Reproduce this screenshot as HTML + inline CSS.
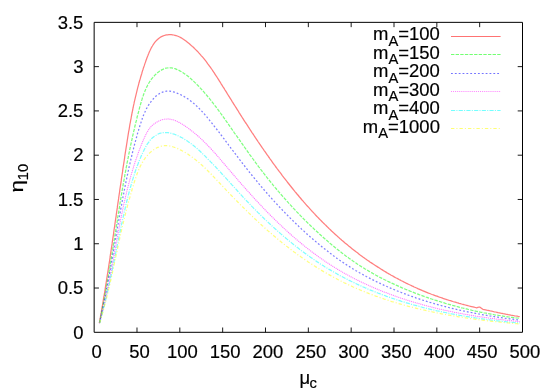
<!DOCTYPE html>
<html><head><meta charset="utf-8"><title>plot</title>
<style>
html,body{margin:0;padding:0;background:#fff;}
svg{display:block;will-change:transform;}
text{font-family:"Liberation Sans",sans-serif;font-size:18.47px;fill:#000;stroke:#000;stroke-width:0.18px;}
.s{font-size:14.78px;}
</style></head><body>
<svg width="554" height="388" viewBox="0 0 554 388">
<rect width="554" height="388" fill="#fff"/>
<g fill="none" stroke-linejoin="round" stroke-opacity="0.5">
<path d="M99.4,323.0 L99.6,321.7 L99.8,320.5 L100.0,319.2 L100.3,317.9 L100.5,316.7 L100.7,315.4 L100.9,314.1 L101.2,312.9 L101.4,311.6 L101.6,310.3 L101.8,309.1 L102.0,307.8 L102.2,306.5 L102.5,305.3 L102.7,304.0 L102.9,302.7 L103.1,301.4 L103.3,300.2 L103.5,298.9 L103.7,297.6 L103.9,296.4 L104.2,295.1 L104.4,293.8 L104.6,292.5 L104.8,291.3 L105.0,290.0 L105.2,288.7 L105.4,287.4 L105.6,286.2 L105.8,284.9 L106.0,283.6 L106.2,282.3 L106.4,281.1 L106.6,279.8 L106.8,278.5 L107.0,277.2 L107.2,275.9 L107.4,274.7 L107.6,273.4 L107.8,272.1 L108.0,270.8 L108.2,269.5 L108.4,268.3 L108.6,267.0 L108.8,265.7 L109.0,264.4 L109.2,263.1 L109.4,261.8 L109.6,260.6 L109.8,259.3 L110.0,258.0 L110.2,256.7 L110.3,255.4 L110.5,254.1 L110.7,252.9 L110.9,251.6 L111.1,250.3 L111.3,249.0 L111.5,247.7 L111.7,246.4 L111.9,245.1 L112.1,243.9 L112.2,242.6 L112.4,241.3 L112.6,240.0 L112.8,238.7 L113.0,237.4 L113.2,236.1 L113.4,234.9 L113.6,233.6 L113.7,232.3 L113.9,231.0 L114.1,229.7 L114.3,228.4 L114.5,227.1 L114.7,225.9 L114.9,224.6 L115.0,223.3 L115.2,222.0 L115.4,220.7 L115.6,219.4 L115.8,218.1 L116.0,216.9 L116.2,215.6 L116.3,214.3 L116.5,213.0 L116.7,211.7 L116.9,210.4 L117.1,209.2 L117.3,207.9 L117.4,206.6 L117.6,205.3 L117.8,204.0 L118.0,202.7 L118.2,201.4 L118.4,200.2 L118.6,198.9 L118.7,197.6 L118.9,196.3 L119.1,195.0 L119.3,193.7 L119.5,192.5 L119.7,191.2 L119.8,189.9 L120.0,188.6 L120.2,187.3 L120.4,186.1 L120.6,184.8 L120.8,183.5 L121.0,182.2 L121.2,180.9 L121.3,179.7 L121.5,178.4 L121.7,177.1 L121.9,175.8 L122.1,174.5 L122.3,173.3 L122.5,172.0 L122.7,170.7 L122.8,169.4 L123.0,168.2 L123.2,166.9 L123.4,165.6 L123.6,164.3 L123.8,163.1 L124.0,161.8 L124.2,160.5 L124.4,159.2 L124.6,158.0 L124.7,156.7 L124.9,155.4 L125.1,154.2 L125.3,152.9 L125.5,151.6 L125.7,150.4 L125.9,149.1 L126.1,147.8 L126.3,146.6 L126.5,145.3 L126.7,144.0 L126.9,142.8 L127.1,141.5 L127.3,140.2 L127.5,139.0 L127.7,137.7 L127.9,136.4 L128.1,135.2 L128.3,133.9 L128.5,132.6 L128.7,131.4 L129.0,130.1 L129.2,128.9 L129.4,127.6 L129.6,126.3 L129.8,125.1 L130.0,123.8 L130.3,122.6 L130.5,121.3 L130.7,120.0 L131.0,118.8 L131.2,117.5 L131.4,116.3 L131.7,115.0 L131.9,113.7 L132.2,112.5 L132.4,111.2 L132.7,110.0 L132.9,108.7 L133.2,107.5 L133.4,106.2 L133.7,104.9 L134.0,103.7 L134.2,102.4 L134.5,101.2 L134.8,99.9 L135.1,98.7 L135.4,97.4 L135.7,96.1 L136.0,94.9 L136.3,93.6 L136.6,92.4 L136.9,91.1 L137.2,89.8 L137.5,88.6 L137.8,87.3 L138.2,86.1 L138.5,84.8 L138.8,83.6 L139.2,82.3 L139.5,81.0 L139.9,79.8 L140.3,78.5 L140.6,77.3 L141.0,76.0 L141.4,74.7 L141.8,73.5 L142.1,72.2 L142.5,70.9 L142.9,69.7 L143.3,68.4 L143.7,67.2 L144.2,65.9 L144.6,64.6 L145.0,63.4 L145.5,62.1 L145.9,60.8 L146.4,59.6 L146.8,58.3 L147.3,57.0 L147.8,55.8 L148.3,54.5 L148.8,53.3 L149.3,52.0 L149.9,50.8 L150.5,49.5 L151.1,48.3 L151.7,47.1 L152.4,46.0 L153.1,44.8 L153.9,43.7 L154.6,42.7 L155.4,41.7 L156.3,40.7 L157.2,39.8 L158.1,39.0 L159.0,38.2 L160.0,37.5 L161.0,36.9 L162.1,36.3 L163.2,35.9 L164.3,35.5 L165.4,35.2 L166.6,34.9 L167.7,34.8 L168.9,34.7 L170.1,34.6 L171.3,34.7 L172.5,34.8 L173.7,35.0 L174.9,35.3 L176.1,35.6 L177.3,36.0 L178.5,36.5 L179.6,37.0 L180.8,37.6 L181.9,38.3 L183.0,39.0 L184.1,39.7 L185.2,40.5 L186.3,41.3 L187.4,42.2 L188.4,43.0 L189.4,43.8 L190.4,44.7 L191.4,45.6 L192.4,46.5 L193.4,47.3 L194.3,48.2 L195.2,49.2 L196.2,50.1 L197.1,51.0 L198.0,51.9 L198.8,52.9 L199.7,53.8 L200.6,54.8 L201.4,55.8 L202.2,56.7 L203.1,57.7 L203.9,58.7 L204.7,59.7 L205.5,60.7 L206.3,61.7 L207.1,62.8 L207.8,63.8 L208.6,64.8 L209.3,65.8 L210.1,66.9 L210.8,67.9 L211.6,69.0 L212.3,70.0 L213.0,71.1 L213.7,72.2 L214.4,73.2 L215.1,74.3 L215.8,75.4 L216.5,76.4 L217.2,77.5 L217.9,78.6 L218.6,79.7 L219.3,80.8 L220.0,81.9 L220.7,83.0 L221.3,84.1 L222.0,85.2 L222.7,86.3 L223.4,87.3 L224.1,88.4 L224.7,89.5 L225.4,90.6 L226.1,91.7 L226.8,92.8 L227.4,93.9 L228.1,95.0 L228.8,96.1 L229.5,97.2 L230.2,98.3 L230.9,99.4 L231.6,100.5 L232.2,101.6 L232.9,102.7 L233.6,103.8 L234.3,104.9 L235.0,106.0 L235.7,107.1 L236.4,108.2 L237.1,109.3 L237.8,110.4 L238.5,111.5 L239.1,112.6 L239.8,113.7 L240.5,114.8 L241.2,115.9 L241.9,117.0 L242.6,118.1 L243.3,119.2 L244.0,120.3 L244.7,121.4 L245.4,122.5 L246.2,123.5 L246.9,124.6 L247.6,125.7 L248.3,126.8 L249.0,127.9 L249.7,129.0 L250.4,130.1 L251.1,131.2 L251.8,132.3 L252.6,133.3 L253.3,134.4 L254.0,135.5 L254.7,136.6 L255.4,137.7 L256.2,138.8 L256.9,139.8 L257.6,140.9 L258.3,142.0 L259.1,143.1 L259.8,144.2 L260.5,145.2 L261.3,146.3 L262.0,147.4 L262.7,148.4 L263.5,149.5 L264.2,150.6 L265.0,151.7 L265.7,152.7 L266.5,153.8 L267.2,154.9 L268.0,155.9 L268.7,157.0 L269.5,158.0 L270.2,159.1 L271.0,160.2 L271.7,161.2 L272.5,162.3 L273.2,163.3 L274.0,164.4 L274.8,165.4 L275.5,166.5 L276.3,167.5 L277.1,168.6 L277.9,169.6 L278.6,170.6 L279.4,171.7 L280.2,172.7 L281.0,173.7 L281.8,174.8 L282.5,175.8 L283.3,176.8 L284.1,177.9 L284.9,178.9 L285.7,179.9 L286.5,180.9 L287.3,182.0 L288.1,183.0 L288.9,184.0 L289.7,185.0 L290.5,186.0 L291.3,187.0 L292.1,188.0 L292.9,189.0 L293.8,190.1 L294.6,191.1 L295.4,192.1 L296.2,193.0 L297.0,194.0 L297.9,195.0 L298.7,196.0 L299.5,197.0 L300.4,198.0 L301.2,199.0 L302.0,200.0 L302.9,200.9 L303.7,201.9 L304.6,202.9 L305.4,203.8 L306.3,204.8 L307.1,205.8 L308.0,206.7 L308.9,207.7 L309.7,208.6 L310.6,209.6 L311.5,210.6 L312.3,211.5 L313.2,212.4 L314.1,213.4 L315.0,214.3 L315.8,215.3 L316.7,216.2 L317.6,217.1 L318.5,218.0 L319.4,219.0 L320.3,219.9 L321.2,220.8 L322.1,221.7 L323.0,222.6 L323.9,223.5 L324.8,224.4 L325.8,225.3 L326.7,226.2 L327.6,227.1 L328.5,228.0 L329.4,228.9 L330.4,229.8 L331.3,230.7 L332.2,231.6 L333.2,232.4 L334.1,233.3 L335.1,234.2 L336.0,235.0 L337.0,235.9 L337.9,236.8 L338.9,237.6 L339.8,238.5 L340.8,239.3 L341.8,240.2 L342.8,241.0 L343.7,241.8 L344.7,242.7 L345.7,243.5 L346.7,244.3 L347.7,245.1 L348.7,246.0 L349.7,246.8 L350.7,247.6 L351.7,248.4 L352.7,249.2 L353.7,250.0 L354.7,250.8 L355.7,251.6 L356.7,252.3 L357.8,253.1 L358.8,253.9 L359.8,254.7 L360.8,255.4 L361.9,256.2 L362.9,257.0 L364.0,257.7 L365.0,258.5 L366.1,259.2 L367.1,260.0 L368.2,260.7 L369.3,261.4 L370.3,262.2 L371.4,262.9 L372.5,263.6 L373.5,264.3 L374.6,265.0 L375.7,265.7 L376.8,266.4 L377.9,267.1 L379.0,267.8 L380.1,268.5 L381.2,269.2 L382.3,269.9 L383.4,270.6 L384.5,271.2 L385.6,271.9 L386.7,272.6 L387.8,273.2 L388.9,273.9 L390.1,274.5 L391.2,275.2 L392.3,275.8 L393.4,276.4 L394.6,277.1 L395.7,277.7 L396.9,278.3 L398.0,278.9 L399.1,279.5 L400.3,280.1 L401.4,280.7 L402.6,281.3 L403.7,281.9 L404.9,282.5 L406.1,283.1 L407.2,283.6 L408.4,284.2 L409.6,284.8 L410.7,285.3 L411.9,285.9 L413.1,286.4 L414.2,287.0 L415.4,287.5 L416.6,288.0 L417.8,288.6 L419.0,289.1 L420.2,289.6 L421.4,290.1 L422.5,290.6 L423.7,291.1 L424.9,291.6 L426.1,292.1 L427.3,292.6 L428.5,293.1 L429.7,293.5 L430.9,294.0 L432.2,294.5 L433.4,294.9 L434.6,295.4 L435.8,295.8 L437.0,296.2 L438.2,296.7 L439.4,297.1 L440.7,297.5 L441.9,297.9 L443.1,298.4 L444.3,298.8 L445.5,299.2 L446.8,299.6 L448.0,300.0 L449.2,300.4 L450.5,300.7 L451.7,301.1 L452.9,301.5 L454.2,301.9 L455.4,302.2 L456.7,302.6 L457.9,302.9 L459.1,303.3 L460.4,303.6 L461.6,304.0 L462.9,304.3 L464.1,304.7 L465.4,305.0 L466.6,305.3 L467.9,305.7 L469.1,306.0 L470.4,306.3 L471.6,306.6 L472.9,306.9 L474.1,307.2 L475.4,307.5 L476.6,307.8 L477.9,307.4 L479.2,307.0 L480.4,307.4 L481.7,308.4 L482.9,309.3 L484.2,309.6 L485.5,309.9 L486.7,310.2 L488.0,310.4 L489.3,310.7 L490.5,311.0 L491.8,311.2 L493.1,311.5 L494.3,311.8 L495.6,312.0 L496.9,312.3 L498.1,312.6 L499.4,312.8 L500.7,313.1 L501.9,313.3 L503.2,313.6 L504.5,313.8 L505.7,314.1 L507.0,314.3 L508.3,314.6 L509.6,314.8 L510.8,315.1 L512.1,315.3 L513.4,315.5 L514.6,315.8 L515.9,316.0 L517.2,316.2 L518.4,316.5 L519.7,316.7" stroke="#ff0000" stroke-width="1.25"/>
<path d="M99.4,323.0 L99.7,321.8 L99.9,320.6 L100.2,319.4 L100.4,318.2 L100.7,317.1 L100.9,315.9 L101.2,314.7 L101.4,313.5 L101.6,312.3 L101.9,311.1 L102.1,309.9 L102.4,308.7 L102.6,307.5 L102.8,306.3 L103.1,305.1 L103.3,303.9 L103.5,302.7 L103.7,301.6 L104.0,300.4 L104.2,299.2 L104.4,298.0 L104.6,296.8 L104.9,295.6 L105.1,294.4 L105.3,293.2 L105.5,292.0 L105.7,290.8 L106.0,289.6 L106.2,288.4 L106.4,287.3 L106.6,286.1 L106.8,284.9 L107.0,283.7 L107.2,282.5 L107.4,281.3 L107.6,280.1 L107.9,278.9 L108.1,277.7 L108.3,276.5 L108.5,275.3 L108.7,274.2 L108.9,273.0 L109.1,271.8 L109.3,270.6 L109.5,269.4 L109.7,268.2 L109.9,267.0 L110.1,265.8 L110.3,264.6 L110.5,263.4 L110.6,262.2 L110.8,261.1 L111.0,259.9 L111.2,258.7 L111.4,257.5 L111.6,256.3 L111.8,255.1 L112.0,253.9 L112.2,252.7 L112.4,251.5 L112.6,250.3 L112.8,249.1 L112.9,248.0 L113.1,246.8 L113.3,245.6 L113.5,244.4 L113.7,243.2 L113.9,242.0 L114.1,240.8 L114.3,239.6 L114.5,238.4 L114.6,237.2 L114.8,236.1 L115.0,234.9 L115.2,233.7 L115.4,232.5 L115.6,231.3 L115.8,230.1 L116.0,228.9 L116.1,227.7 L116.3,226.5 L116.5,225.3 L116.7,224.2 L116.9,223.0 L117.1,221.8 L117.3,220.6 L117.5,219.4 L117.6,218.2 L117.8,217.0 L118.0,215.8 L118.2,214.6 L118.4,213.4 L118.6,212.3 L118.8,211.1 L119.0,209.9 L119.2,208.7 L119.4,207.5 L119.6,206.3 L119.7,205.1 L119.9,203.9 L120.1,202.7 L120.3,201.6 L120.5,200.4 L120.7,199.2 L120.9,198.0 L121.1,196.8 L121.3,195.6 L121.5,194.4 L121.7,193.2 L121.9,192.0 L122.1,190.8 L122.3,189.7 L122.5,188.5 L122.7,187.3 L122.9,186.1 L123.1,184.9 L123.3,183.7 L123.5,182.5 L123.8,181.3 L124.0,180.1 L124.2,179.0 L124.4,177.8 L124.6,176.6 L124.8,175.4 L125.0,174.2 L125.2,173.0 L125.5,171.8 L125.7,170.6 L125.9,169.5 L126.1,168.3 L126.3,167.1 L126.6,165.9 L126.8,164.7 L127.0,163.5 L127.2,162.3 L127.5,161.1 L127.7,159.9 L127.9,158.8 L128.2,157.6 L128.4,156.4 L128.6,155.2 L128.9,154.0 L129.1,152.8 L129.4,151.6 L129.6,150.4 L129.8,149.3 L130.1,148.1 L130.3,146.9 L130.6,145.7 L130.8,144.5 L131.1,143.3 L131.3,142.1 L131.6,140.9 L131.9,139.8 L132.1,138.6 L132.4,137.4 L132.6,136.2 L132.9,135.0 L133.2,133.8 L133.5,132.6 L133.7,131.4 L134.0,130.3 L134.3,129.1 L134.6,127.9 L134.8,126.7 L135.1,125.5 L135.4,124.3 L135.7,123.1 L136.0,121.9 L136.3,120.8 L136.6,119.6 L136.9,118.4 L137.1,117.2 L137.4,116.0 L137.8,114.8 L138.1,113.6 L138.4,112.4 L138.7,111.3 L139.0,110.1 L139.3,108.9 L139.6,107.7 L139.9,106.5 L140.3,105.3 L140.6,104.1 L140.9,103.0 L141.3,101.8 L141.6,100.6 L142.0,99.4 L142.3,98.3 L142.7,97.1 L143.1,96.0 L143.5,94.8 L143.9,93.7 L144.3,92.6 L144.8,91.5 L145.2,90.4 L145.7,89.3 L146.2,88.2 L146.7,87.1 L147.2,86.1 L147.7,85.0 L148.3,84.0 L148.9,83.0 L149.5,82.0 L150.1,81.1 L150.8,80.1 L151.4,79.2 L152.1,78.3 L152.9,77.4 L153.6,76.5 L154.4,75.7 L155.2,74.8 L156.1,74.0 L156.9,73.3 L157.8,72.5 L158.8,71.8 L159.7,71.1 L160.7,70.5 L161.7,69.9 L162.8,69.4 L163.8,68.9 L164.9,68.5 L166.0,68.2 L167.1,68.0 L168.2,67.8 L169.3,67.7 L170.4,67.8 L171.6,67.9 L172.7,68.1 L173.8,68.4 L175.0,68.7 L176.1,69.1 L177.2,69.6 L178.3,70.1 L179.4,70.6 L180.5,71.2 L181.6,71.9 L182.7,72.5 L183.7,73.2 L184.7,73.9 L185.7,74.6 L186.7,75.3 L187.7,76.1 L188.6,76.8 L189.5,77.6 L190.5,78.4 L191.4,79.2 L192.2,80.0 L193.1,80.8 L194.0,81.6 L194.8,82.4 L195.7,83.2 L196.5,84.1 L197.3,84.9 L198.2,85.8 L199.0,86.6 L199.8,87.5 L200.6,88.4 L201.4,89.2 L202.2,90.1 L203.0,91.0 L203.8,91.9 L204.6,92.8 L205.3,93.7 L206.1,94.6 L206.9,95.5 L207.6,96.4 L208.4,97.3 L209.2,98.2 L209.9,99.2 L210.7,100.1 L211.4,101.0 L212.1,102.0 L212.9,102.9 L213.6,103.9 L214.3,104.8 L215.1,105.8 L215.8,106.7 L216.5,107.7 L217.2,108.6 L218.0,109.6 L218.7,110.6 L219.4,111.5 L220.1,112.5 L220.8,113.5 L221.5,114.5 L222.2,115.4 L222.9,116.4 L223.6,117.4 L224.3,118.4 L225.0,119.4 L225.7,120.4 L226.4,121.3 L227.1,122.3 L227.8,123.3 L228.5,124.3 L229.2,125.3 L229.9,126.3 L230.6,127.3 L231.3,128.3 L232.0,129.3 L232.7,130.3 L233.4,131.3 L234.0,132.3 L234.7,133.3 L235.4,134.2 L236.1,135.2 L236.8,136.2 L237.5,137.2 L238.2,138.2 L238.9,139.2 L239.6,140.2 L240.3,141.2 L241.0,142.2 L241.7,143.2 L242.4,144.2 L243.1,145.2 L243.8,146.2 L244.5,147.2 L245.2,148.2 L245.9,149.1 L246.6,150.1 L247.3,151.1 L248.0,152.1 L248.7,153.1 L249.4,154.1 L250.1,155.1 L250.8,156.0 L251.5,157.0 L252.3,158.0 L253.0,159.0 L253.7,160.0 L254.4,160.9 L255.1,161.9 L255.8,162.9 L256.6,163.9 L257.3,164.8 L258.0,165.8 L258.7,166.8 L259.5,167.7 L260.2,168.7 L260.9,169.7 L261.7,170.6 L262.4,171.6 L263.2,172.6 L263.9,173.5 L264.6,174.5 L265.4,175.4 L266.1,176.4 L266.9,177.3 L267.6,178.3 L268.4,179.2 L269.1,180.1 L269.9,181.1 L270.6,182.0 L271.4,183.0 L272.2,183.9 L272.9,184.8 L273.7,185.8 L274.5,186.7 L275.2,187.6 L276.0,188.5 L276.8,189.5 L277.6,190.4 L278.3,191.3 L279.1,192.2 L279.9,193.1 L280.7,194.0 L281.5,195.0 L282.3,195.9 L283.1,196.8 L283.9,197.7 L284.7,198.6 L285.5,199.5 L286.3,200.4 L287.1,201.3 L287.9,202.2 L288.7,203.1 L289.5,203.9 L290.3,204.8 L291.1,205.7 L291.9,206.6 L292.7,207.5 L293.5,208.4 L294.4,209.2 L295.2,210.1 L296.0,211.0 L296.8,211.9 L297.7,212.7 L298.5,213.6 L299.3,214.5 L300.2,215.3 L301.0,216.2 L301.9,217.0 L302.7,217.9 L303.5,218.7 L304.4,219.6 L305.2,220.4 L306.1,221.3 L306.9,222.1 L307.8,223.0 L308.7,223.8 L309.5,224.6 L310.4,225.5 L311.2,226.3 L312.1,227.1 L313.0,227.9 L313.8,228.8 L314.7,229.6 L315.6,230.4 L316.5,231.2 L317.4,232.0 L318.2,232.8 L319.1,233.7 L320.0,234.5 L320.9,235.3 L321.8,236.1 L322.7,236.9 L323.6,237.7 L324.5,238.5 L325.4,239.2 L326.3,240.0 L327.2,240.8 L328.1,241.6 L329.0,242.4 L329.9,243.2 L330.8,243.9 L331.7,244.7 L332.7,245.5 L333.6,246.2 L334.5,247.0 L335.4,247.8 L336.4,248.5 L337.3,249.3 L338.2,250.0 L339.2,250.8 L340.1,251.5 L341.1,252.2 L342.0,253.0 L343.0,253.7 L343.9,254.4 L344.9,255.2 L345.8,255.9 L346.8,256.6 L347.8,257.3 L348.7,258.0 L349.7,258.7 L350.7,259.4 L351.7,260.1 L352.6,260.8 L353.6,261.5 L354.6,262.1 L355.6,262.8 L356.6,263.5 L357.6,264.2 L358.6,264.8 L359.6,265.5 L360.6,266.1 L361.6,266.8 L362.6,267.4 L363.7,268.0 L364.7,268.7 L365.7,269.3 L366.7,269.9 L367.8,270.5 L368.8,271.1 L369.8,271.7 L370.9,272.4 L371.9,272.9 L373.0,273.5 L374.0,274.1 L375.1,274.7 L376.1,275.3 L377.2,275.9 L378.3,276.4 L379.3,277.0 L380.4,277.6 L381.5,278.1 L382.5,278.7 L383.6,279.2 L384.7,279.8 L385.8,280.3 L386.9,280.8 L387.9,281.4 L389.0,281.9 L390.1,282.4 L391.2,282.9 L392.3,283.4 L393.4,283.9 L394.5,284.4 L395.6,284.9 L396.7,285.4 L397.8,285.9 L398.9,286.4 L400.0,286.9 L401.1,287.4 L402.2,287.9 L403.3,288.3 L404.5,288.8 L405.6,289.3 L406.7,289.7 L407.8,290.2 L408.9,290.6 L410.1,291.1 L411.2,291.5 L412.3,292.0 L413.4,292.4 L414.6,292.9 L415.7,293.3 L416.8,293.7 L418.0,294.1 L419.1,294.6 L420.2,295.0 L421.4,295.4 L422.5,295.8 L423.6,296.2 L424.8,296.6 L425.9,297.0 L427.1,297.4 L428.2,297.8 L429.3,298.2 L430.5,298.6 L431.6,299.0 L432.8,299.3 L433.9,299.7 L435.1,300.1 L436.2,300.4 L437.3,300.8 L438.5,301.2 L439.6,301.5 L440.8,301.9 L441.9,302.2 L443.1,302.6 L444.2,302.9 L445.4,303.3 L446.6,303.6 L447.7,304.0 L448.9,304.3 L450.0,304.6 L451.2,305.0 L452.3,305.3 L453.5,305.6 L454.6,305.9 L455.8,306.2 L457.0,306.5 L458.1,306.8 L459.3,307.2 L460.5,307.5 L461.6,307.8 L462.8,308.0 L463.9,308.3 L465.1,308.6 L466.3,308.9 L467.4,309.2 L468.6,309.5 L469.8,309.7 L471.0,310.0 L472.1,310.3 L473.3,310.5 L474.5,310.8 L475.6,311.1 L476.8,311.3 L478.0,311.6 L479.2,311.8 L480.4,312.1 L481.5,312.3 L482.7,312.5 L483.9,312.8 L485.1,313.0 L486.3,313.2 L487.4,313.5 L488.6,313.7 L489.8,313.9 L491.0,314.1 L492.2,314.3 L493.4,314.5 L494.6,314.8 L495.8,315.0 L496.9,315.2 L498.1,315.3 L499.3,315.5 L500.5,315.7 L501.7,315.9 L502.9,316.1 L504.1,316.3 L505.3,316.5 L506.5,316.6 L507.7,316.8 L508.9,317.0 L510.1,317.1 L511.3,317.3 L512.5,317.4 L513.7,317.6 L515.0,317.7 L516.2,317.9 L517.4,318.0 L518.6,318.2 L519.8,318.3" stroke="#00ff00" stroke-width="1.25" stroke-dasharray="3.38 1.24"/>
<path d="M99.5,323.0 L99.7,321.9 L100.0,320.8 L100.2,319.6 L100.5,318.5 L100.8,317.4 L101.0,316.3 L101.3,315.1 L101.5,314.0 L101.8,312.9 L102.0,311.8 L102.2,310.6 L102.5,309.5 L102.7,308.4 L103.0,307.3 L103.2,306.1 L103.4,305.0 L103.7,303.9 L103.9,302.8 L104.1,301.6 L104.4,300.5 L104.6,299.4 L104.8,298.3 L105.1,297.1 L105.3,296.0 L105.5,294.9 L105.7,293.7 L105.9,292.6 L106.2,291.5 L106.4,290.3 L106.6,289.2 L106.8,288.1 L107.0,287.0 L107.3,285.8 L107.5,284.7 L107.7,283.6 L107.9,282.4 L108.1,281.3 L108.3,280.2 L108.5,279.0 L108.7,277.9 L108.9,276.8 L109.1,275.7 L109.4,274.5 L109.6,273.4 L109.8,272.3 L110.0,271.1 L110.2,270.0 L110.4,268.9 L110.6,267.7 L110.8,266.6 L111.0,265.5 L111.2,264.3 L111.4,263.2 L111.6,262.1 L111.8,260.9 L112.0,259.8 L112.2,258.7 L112.4,257.5 L112.6,256.4 L112.8,255.3 L113.0,254.1 L113.2,253.0 L113.3,251.9 L113.5,250.7 L113.7,249.6 L113.9,248.5 L114.1,247.3 L114.3,246.2 L114.5,245.1 L114.7,243.9 L114.9,242.8 L115.1,241.7 L115.3,240.5 L115.5,239.4 L115.7,238.2 L115.9,237.1 L116.1,236.0 L116.3,234.8 L116.5,233.7 L116.7,232.6 L116.9,231.4 L117.0,230.3 L117.2,229.2 L117.4,228.0 L117.6,226.9 L117.8,225.8 L118.0,224.6 L118.2,223.5 L118.4,222.4 L118.6,221.2 L118.8,220.1 L119.0,219.0 L119.2,217.8 L119.4,216.7 L119.6,215.6 L119.8,214.5 L120.0,213.3 L120.2,212.2 L120.4,211.1 L120.6,209.9 L120.8,208.8 L121.0,207.7 L121.2,206.5 L121.5,205.4 L121.7,204.3 L121.9,203.1 L122.1,202.0 L122.3,200.9 L122.5,199.7 L122.7,198.6 L122.9,197.5 L123.1,196.4 L123.4,195.2 L123.6,194.1 L123.8,193.0 L124.0,191.8 L124.2,190.7 L124.4,189.6 L124.7,188.5 L124.9,187.3 L125.1,186.2 L125.3,185.1 L125.6,183.9 L125.8,182.8 L126.0,181.7 L126.3,180.6 L126.5,179.4 L126.7,178.3 L127.0,177.2 L127.2,176.1 L127.4,174.9 L127.7,173.8 L127.9,172.7 L128.1,171.6 L128.4,170.4 L128.6,169.3 L128.9,168.2 L129.1,167.1 L129.4,166.0 L129.6,164.8 L129.9,163.7 L130.1,162.6 L130.4,161.5 L130.7,160.4 L130.9,159.2 L131.2,158.1 L131.5,157.0 L131.7,155.9 L132.0,154.8 L132.3,153.6 L132.5,152.5 L132.8,151.4 L133.1,150.3 L133.4,149.2 L133.6,148.1 L133.9,146.9 L134.2,145.8 L134.5,144.7 L134.8,143.6 L135.1,142.5 L135.4,141.4 L135.7,140.3 L136.0,139.2 L136.3,138.1 L136.6,137.0 L136.9,135.8 L137.2,134.7 L137.5,133.6 L137.8,132.5 L138.2,131.4 L138.5,130.4 L138.8,129.3 L139.2,128.2 L139.5,127.1 L139.8,126.0 L140.2,124.9 L140.5,123.8 L140.9,122.7 L141.2,121.7 L141.6,120.6 L142.0,119.5 L142.3,118.4 L142.7,117.4 L143.1,116.3 L143.5,115.2 L144.0,114.2 L144.4,113.1 L144.9,112.1 L145.4,111.0 L145.9,109.9 L146.4,108.9 L147.0,107.8 L147.6,106.8 L148.2,105.7 L148.9,104.7 L149.5,103.7 L150.2,102.7 L151.0,101.7 L151.7,100.7 L152.5,99.8 L153.3,98.9 L154.1,98.0 L155.0,97.1 L155.8,96.3 L156.7,95.6 L157.6,94.9 L158.6,94.2 L159.5,93.6 L160.5,93.1 L161.5,92.6 L162.5,92.1 L163.5,91.8 L164.5,91.5 L165.6,91.3 L166.6,91.1 L167.7,91.1 L168.8,91.1 L169.9,91.2 L171.0,91.4 L172.1,91.6 L173.3,91.9 L174.4,92.2 L175.5,92.6 L176.6,93.0 L177.6,93.4 L178.7,93.9 L179.8,94.3 L180.8,94.8 L181.8,95.4 L182.8,95.9 L183.8,96.4 L184.8,97.0 L185.8,97.6 L186.7,98.2 L187.7,98.8 L188.6,99.5 L189.5,100.1 L190.4,100.8 L191.3,101.5 L192.2,102.2 L193.1,102.9 L194.0,103.6 L194.8,104.4 L195.7,105.2 L196.5,105.9 L197.4,106.7 L198.2,107.5 L199.0,108.3 L199.8,109.1 L200.6,109.9 L201.4,110.8 L202.2,111.6 L203.0,112.5 L203.7,113.3 L204.5,114.2 L205.3,115.1 L206.0,115.9 L206.8,116.8 L207.5,117.7 L208.3,118.6 L209.0,119.5 L209.7,120.4 L210.5,121.3 L211.2,122.2 L211.9,123.1 L212.6,124.0 L213.3,124.9 L214.0,125.8 L214.8,126.8 L215.5,127.7 L216.2,128.6 L216.9,129.5 L217.6,130.4 L218.3,131.3 L219.0,132.2 L219.7,133.2 L220.4,134.1 L221.1,135.0 L221.8,135.9 L222.5,136.8 L223.2,137.7 L223.9,138.6 L224.5,139.6 L225.2,140.5 L225.9,141.4 L226.6,142.3 L227.3,143.2 L228.0,144.1 L228.7,145.1 L229.4,146.0 L230.1,146.9 L230.7,147.8 L231.4,148.7 L232.1,149.6 L232.8,150.5 L233.5,151.5 L234.2,152.4 L234.9,153.3 L235.6,154.2 L236.2,155.1 L236.9,156.0 L237.6,156.9 L238.3,157.8 L239.0,158.7 L239.7,159.7 L240.4,160.6 L241.1,161.5 L241.8,162.4 L242.5,163.3 L243.2,164.2 L243.9,165.1 L244.6,166.0 L245.3,166.9 L246.0,167.8 L246.7,168.7 L247.4,169.6 L248.1,170.5 L248.8,171.4 L249.6,172.3 L250.3,173.2 L251.0,174.1 L251.7,175.0 L252.4,175.9 L253.2,176.8 L253.9,177.7 L254.6,178.5 L255.3,179.4 L256.1,180.3 L256.8,181.2 L257.5,182.1 L258.3,183.0 L259.0,183.9 L259.8,184.7 L260.5,185.6 L261.2,186.5 L262.0,187.4 L262.7,188.2 L263.5,189.1 L264.2,190.0 L265.0,190.9 L265.7,191.7 L266.5,192.6 L267.2,193.5 L268.0,194.3 L268.8,195.2 L269.5,196.1 L270.3,196.9 L271.1,197.8 L271.8,198.6 L272.6,199.5 L273.4,200.4 L274.1,201.2 L274.9,202.1 L275.7,202.9 L276.5,203.8 L277.3,204.6 L278.0,205.4 L278.8,206.3 L279.6,207.1 L280.4,208.0 L281.2,208.8 L282.0,209.6 L282.8,210.5 L283.6,211.3 L284.4,212.1 L285.2,213.0 L286.0,213.8 L286.8,214.6 L287.6,215.4 L288.4,216.3 L289.2,217.1 L290.0,217.9 L290.9,218.7 L291.7,219.5 L292.5,220.3 L293.3,221.1 L294.1,221.9 L295.0,222.7 L295.8,223.5 L296.6,224.3 L297.4,225.1 L298.3,225.9 L299.1,226.7 L300.0,227.5 L300.8,228.3 L301.6,229.1 L302.5,229.9 L303.3,230.6 L304.2,231.4 L305.0,232.2 L305.9,233.0 L306.7,233.7 L307.5,234.5 L308.4,235.2 L309.3,236.0 L310.1,236.8 L311.0,237.5 L311.8,238.3 L312.7,239.0 L313.5,239.7 L314.4,240.5 L315.3,241.2 L316.1,241.9 L317.0,242.7 L317.8,243.4 L318.7,244.1 L319.6,244.8 L320.4,245.5 L321.3,246.2 L322.2,247.0 L323.0,247.7 L323.9,248.4 L324.8,249.0 L325.7,249.7 L326.5,250.4 L327.4,251.1 L328.3,251.8 L329.1,252.5 L330.0,253.1 L330.9,253.8 L331.8,254.5 L332.7,255.1 L333.5,255.8 L334.4,256.4 L335.3,257.1 L336.2,257.7 L337.1,258.4 L338.0,259.0 L338.9,259.6 L339.8,260.3 L340.7,260.9 L341.6,261.5 L342.5,262.1 L343.4,262.7 L344.3,263.3 L345.2,264.0 L346.2,264.6 L347.1,265.2 L348.0,265.8 L348.9,266.4 L349.9,266.9 L350.8,267.5 L351.8,268.1 L352.7,268.7 L353.7,269.3 L354.6,269.9 L355.6,270.4 L356.5,271.0 L357.5,271.6 L358.5,272.1 L359.4,272.7 L360.4,273.2 L361.4,273.8 L362.4,274.3 L363.4,274.9 L364.4,275.4 L365.4,276.0 L366.3,276.5 L367.3,277.0 L368.4,277.6 L369.4,278.1 L370.4,278.6 L371.4,279.1 L372.4,279.6 L373.4,280.1 L374.4,280.7 L375.5,281.2 L376.5,281.7 L377.5,282.2 L378.5,282.6 L379.6,283.1 L380.6,283.6 L381.7,284.1 L382.7,284.6 L383.7,285.1 L384.8,285.5 L385.8,286.0 L386.9,286.5 L387.9,286.9 L389.0,287.4 L390.0,287.9 L391.1,288.3 L392.2,288.8 L393.2,289.2 L394.3,289.7 L395.3,290.1 L396.4,290.5 L397.5,291.0 L398.6,291.4 L399.6,291.8 L400.7,292.2 L401.8,292.7 L402.8,293.1 L403.9,293.5 L405.0,293.9 L406.1,294.3 L407.2,294.7 L408.2,295.1 L409.3,295.5 L410.4,295.9 L411.5,296.3 L412.6,296.7 L413.7,297.1 L414.8,297.4 L415.8,297.8 L416.9,298.2 L418.0,298.5 L419.1,298.9 L420.2,299.3 L421.3,299.6 L422.4,300.0 L423.5,300.3 L424.6,300.7 L425.7,301.0 L426.8,301.4 L427.8,301.7 L428.9,302.0 L430.0,302.4 L431.1,302.7 L432.2,303.0 L433.3,303.3 L434.4,303.7 L435.5,304.0 L436.6,304.3 L437.7,304.6 L438.8,304.9 L439.9,305.2 L441.0,305.5 L442.1,305.8 L443.2,306.1 L444.3,306.4 L445.4,306.7 L446.5,307.0 L447.6,307.2 L448.7,307.5 L449.8,307.8 L450.9,308.1 L452.1,308.3 L453.2,308.6 L454.3,308.9 L455.4,309.1 L456.5,309.4 L457.6,309.6 L458.7,309.9 L459.8,310.2 L460.9,310.4 L462.0,310.6 L463.2,310.9 L464.3,311.1 L465.4,311.4 L466.5,311.6 L467.6,311.8 L468.7,312.1 L469.9,312.3 L471.0,312.5 L472.1,312.7 L473.2,313.0 L474.3,313.2 L475.5,313.4 L476.6,313.6 L477.7,313.8 L478.8,314.0 L479.9,314.2 L481.1,314.4 L482.2,314.6 L483.3,314.8 L484.5,315.0 L485.6,315.2 L486.7,315.4 L487.8,315.6 L489.0,315.8 L490.1,316.0 L491.2,316.1 L492.4,316.3 L493.5,316.5 L494.6,316.7 L495.8,316.9 L496.9,317.0 L498.1,317.2 L499.2,317.4 L500.3,317.5 L501.5,317.7 L502.6,317.9 L503.8,318.0 L504.9,318.2 L506.0,318.3 L507.2,318.5 L508.3,318.6 L509.5,318.8 L510.6,318.9 L511.8,319.1 L512.9,319.2 L514.1,319.4 L515.2,319.5 L516.4,319.7 L517.5,319.8 L518.7,319.9 L519.9,320.1" stroke="#0000ff" stroke-width="1.25" stroke-dasharray="1.84 2.01"/>
<path d="M99.5,323.0 L99.8,321.9 L100.1,320.9 L100.4,319.9 L100.6,318.8 L100.9,317.8 L101.2,316.8 L101.5,315.7 L101.7,314.7 L102.0,313.7 L102.2,312.6 L102.5,311.6 L102.8,310.5 L103.0,309.5 L103.3,308.4 L103.5,307.4 L103.8,306.3 L104.0,305.3 L104.3,304.2 L104.5,303.2 L104.7,302.1 L105.0,301.1 L105.2,300.0 L105.5,299.0 L105.7,297.9 L105.9,296.9 L106.2,295.8 L106.4,294.8 L106.6,293.7 L106.8,292.6 L107.1,291.6 L107.3,290.5 L107.5,289.5 L107.7,288.4 L107.9,287.3 L108.2,286.3 L108.4,285.2 L108.6,284.1 L108.8,283.1 L109.0,282.0 L109.2,280.9 L109.4,279.9 L109.6,278.8 L109.9,277.7 L110.1,276.7 L110.3,275.6 L110.5,274.5 L110.7,273.5 L110.9,272.4 L111.1,271.3 L111.3,270.2 L111.5,269.2 L111.7,268.1 L111.9,267.0 L112.1,265.9 L112.3,264.9 L112.5,263.8 L112.7,262.7 L112.9,261.6 L113.1,260.6 L113.3,259.5 L113.5,258.4 L113.7,257.3 L113.9,256.3 L114.1,255.2 L114.2,254.1 L114.4,253.0 L114.6,252.0 L114.8,250.9 L115.0,249.8 L115.2,248.7 L115.4,247.7 L115.6,246.6 L115.8,245.5 L116.0,244.4 L116.2,243.3 L116.4,242.3 L116.6,241.2 L116.8,240.1 L117.0,239.0 L117.2,238.0 L117.4,236.9 L117.6,235.8 L117.8,234.7 L118.0,233.7 L118.2,232.6 L118.4,231.5 L118.6,230.4 L118.8,229.4 L119.0,228.3 L119.2,227.2 L119.4,226.2 L119.6,225.1 L119.8,224.0 L120.0,222.9 L120.2,221.9 L120.4,220.8 L120.6,219.7 L120.9,218.7 L121.1,217.6 L121.3,216.5 L121.5,215.5 L121.7,214.4 L121.9,213.3 L122.2,212.3 L122.4,211.2 L122.6,210.1 L122.8,209.1 L123.0,208.0 L123.3,206.9 L123.5,205.9 L123.7,204.8 L124.0,203.8 L124.2,202.7 L124.4,201.7 L124.7,200.6 L124.9,199.5 L125.1,198.5 L125.4,197.4 L125.6,196.4 L125.9,195.3 L126.1,194.3 L126.4,193.2 L126.6,192.2 L126.9,191.1 L127.1,190.1 L127.4,189.0 L127.7,188.0 L127.9,186.9 L128.2,185.9 L128.5,184.9 L128.7,183.8 L129.0,182.8 L129.3,181.7 L129.5,180.7 L129.8,179.7 L130.1,178.6 L130.4,177.6 L130.7,176.6 L131.0,175.5 L131.3,174.5 L131.6,173.5 L131.9,172.5 L132.2,171.4 L132.5,170.4 L132.8,169.4 L133.1,168.4 L133.4,167.4 L133.7,166.3 L134.0,165.3 L134.4,164.3 L134.7,163.3 L135.0,162.3 L135.3,161.3 L135.7,160.3 L136.0,159.3 L136.4,158.3 L136.7,157.3 L137.1,156.3 L137.4,155.3 L137.8,154.3 L138.1,153.3 L138.5,152.3 L138.9,151.3 L139.2,150.3 L139.6,149.3 L140.0,148.3 L140.4,147.3 L140.7,146.4 L141.1,145.4 L141.5,144.4 L141.9,143.4 L142.3,142.5 L142.7,141.5 L143.1,140.5 L143.5,139.5 L144.0,138.6 L144.4,137.6 L144.8,136.7 L145.2,135.8 L145.7,134.9 L146.1,134.0 L146.6,133.1 L147.0,132.3 L147.5,131.5 L148.0,130.7 L148.5,129.9 L149.0,129.1 L149.5,128.4 L150.1,127.7 L150.8,126.9 L151.4,126.2 L152.1,125.5 L152.9,124.9 L153.7,124.2 L154.6,123.6 L155.5,123.0 L156.4,122.4 L157.3,121.8 L158.3,121.3 L159.3,120.8 L160.3,120.4 L161.3,120.0 L162.3,119.7 L163.4,119.4 L164.4,119.2 L165.5,119.1 L166.5,119.0 L167.6,118.9 L168.6,119.0 L169.7,119.1 L170.7,119.2 L171.7,119.5 L172.7,119.7 L173.8,120.0 L174.8,120.4 L175.8,120.8 L176.8,121.2 L177.7,121.7 L178.7,122.2 L179.7,122.7 L180.7,123.3 L181.6,123.8 L182.6,124.4 L183.5,125.0 L184.4,125.6 L185.3,126.2 L186.3,126.9 L187.2,127.5 L188.1,128.1 L189.0,128.8 L189.8,129.4 L190.7,130.1 L191.6,130.8 L192.4,131.4 L193.3,132.1 L194.1,132.8 L195.0,133.5 L195.8,134.2 L196.6,134.9 L197.5,135.6 L198.3,136.3 L199.1,137.0 L199.9,137.8 L200.7,138.5 L201.5,139.2 L202.3,140.0 L203.0,140.7 L203.8,141.5 L204.6,142.2 L205.4,143.0 L206.1,143.7 L206.9,144.5 L207.6,145.3 L208.4,146.1 L209.1,146.8 L209.9,147.6 L210.6,148.4 L211.3,149.2 L212.1,150.0 L212.8,150.8 L213.5,151.6 L214.2,152.4 L215.0,153.2 L215.7,154.0 L216.4,154.8 L217.1,155.6 L217.8,156.4 L218.5,157.2 L219.2,158.0 L219.9,158.9 L220.6,159.7 L221.3,160.5 L222.0,161.3 L222.7,162.1 L223.4,163.0 L224.1,163.8 L224.8,164.6 L225.5,165.4 L226.2,166.2 L226.9,167.1 L227.6,167.9 L228.3,168.7 L229.0,169.5 L229.7,170.3 L230.4,171.2 L231.1,172.0 L231.8,172.8 L232.5,173.6 L233.2,174.4 L233.9,175.3 L234.6,176.1 L235.3,176.9 L236.0,177.7 L236.7,178.5 L237.4,179.3 L238.1,180.1 L238.8,181.0 L239.5,181.8 L240.2,182.6 L240.9,183.4 L241.6,184.2 L242.3,185.0 L243.1,185.8 L243.8,186.6 L244.5,187.4 L245.2,188.2 L245.9,189.0 L246.6,189.8 L247.3,190.6 L248.0,191.4 L248.8,192.2 L249.5,193.0 L250.2,193.8 L250.9,194.6 L251.6,195.4 L252.4,196.2 L253.1,197.0 L253.8,197.8 L254.5,198.6 L255.3,199.4 L256.0,200.2 L256.7,200.9 L257.5,201.7 L258.2,202.5 L258.9,203.3 L259.7,204.1 L260.4,204.9 L261.1,205.6 L261.9,206.4 L262.6,207.2 L263.3,208.0 L264.1,208.8 L264.8,209.5 L265.6,210.3 L266.3,211.1 L267.1,211.8 L267.8,212.6 L268.6,213.4 L269.3,214.1 L270.1,214.9 L270.9,215.7 L271.6,216.4 L272.4,217.2 L273.1,217.9 L273.9,218.7 L274.7,219.4 L275.4,220.2 L276.2,220.9 L277.0,221.7 L277.8,222.4 L278.5,223.2 L279.3,223.9 L280.1,224.7 L280.9,225.4 L281.7,226.1 L282.4,226.9 L283.2,227.6 L284.0,228.4 L284.8,229.1 L285.6,229.8 L286.4,230.5 L287.2,231.3 L288.0,232.0 L288.8,232.7 L289.6,233.4 L290.4,234.1 L291.2,234.8 L292.0,235.6 L292.8,236.3 L293.6,237.0 L294.4,237.7 L295.2,238.4 L296.1,239.1 L296.9,239.8 L297.7,240.5 L298.5,241.2 L299.3,241.8 L300.2,242.5 L301.0,243.2 L301.8,243.9 L302.7,244.6 L303.5,245.2 L304.3,245.9 L305.2,246.6 L306.0,247.3 L306.8,247.9 L307.7,248.6 L308.5,249.3 L309.4,249.9 L310.2,250.6 L311.1,251.2 L311.9,251.9 L312.8,252.5 L313.7,253.2 L314.5,253.8 L315.4,254.4 L316.3,255.1 L317.1,255.7 L318.0,256.3 L318.9,257.0 L319.7,257.6 L320.6,258.2 L321.5,258.8 L322.4,259.4 L323.3,260.0 L324.2,260.6 L325.0,261.3 L325.9,261.9 L326.8,262.5 L327.7,263.0 L328.6,263.6 L329.5,264.2 L330.4,264.8 L331.3,265.4 L332.2,266.0 L333.1,266.5 L334.1,267.1 L335.0,267.7 L335.9,268.2 L336.8,268.8 L337.7,269.4 L338.7,269.9 L339.6,270.5 L340.5,271.0 L341.5,271.5 L342.4,272.1 L343.3,272.6 L344.3,273.2 L345.2,273.7 L346.1,274.2 L347.1,274.7 L348.0,275.2 L349.0,275.8 L349.9,276.3 L350.9,276.8 L351.9,277.3 L352.8,277.8 L353.8,278.3 L354.7,278.8 L355.7,279.3 L356.7,279.8 L357.6,280.2 L358.6,280.7 L359.6,281.2 L360.5,281.7 L361.5,282.1 L362.5,282.6 L363.5,283.1 L364.5,283.5 L365.4,284.0 L366.4,284.4 L367.4,284.9 L368.4,285.3 L369.4,285.8 L370.4,286.2 L371.4,286.7 L372.4,287.1 L373.3,287.5 L374.3,288.0 L375.3,288.4 L376.3,288.8 L377.3,289.2 L378.3,289.6 L379.3,290.0 L380.3,290.5 L381.3,290.9 L382.3,291.3 L383.4,291.7 L384.4,292.1 L385.4,292.4 L386.4,292.8 L387.4,293.2 L388.4,293.6 L389.4,294.0 L390.4,294.4 L391.4,294.7 L392.5,295.1 L393.5,295.5 L394.5,295.8 L395.5,296.2 L396.5,296.6 L397.5,296.9 L398.6,297.3 L399.6,297.6 L400.6,298.0 L401.6,298.3 L402.6,298.7 L403.7,299.0 L404.7,299.3 L405.7,299.7 L406.7,300.0 L407.8,300.3 L408.8,300.6 L409.8,301.0 L410.8,301.3 L411.9,301.6 L412.9,301.9 L413.9,302.2 L414.9,302.5 L416.0,302.8 L417.0,303.1 L418.0,303.4 L419.1,303.7 L420.1,304.0 L421.1,304.3 L422.2,304.6 L423.2,304.9 L424.2,305.2 L425.3,305.4 L426.3,305.7 L427.4,306.0 L428.4,306.3 L429.4,306.5 L430.5,306.8 L431.5,307.1 L432.6,307.3 L433.6,307.6 L434.6,307.8 L435.7,308.1 L436.7,308.4 L437.8,308.6 L438.8,308.9 L439.9,309.1 L440.9,309.3 L442.0,309.6 L443.0,309.8 L444.0,310.0 L445.1,310.3 L446.1,310.5 L447.2,310.7 L448.2,311.0 L449.3,311.2 L450.3,311.4 L451.4,311.6 L452.5,311.8 L453.5,312.1 L454.6,312.3 L455.6,312.5 L456.7,312.7 L457.7,312.9 L458.8,313.1 L459.8,313.3 L460.9,313.5 L462.0,313.7 L463.0,313.9 L464.1,314.1 L465.1,314.3 L466.2,314.5 L467.3,314.6 L468.3,314.8 L469.4,315.0 L470.4,315.2 L471.5,315.4 L472.6,315.6 L473.6,315.7 L474.7,315.9 L475.8,316.1 L476.8,316.2 L477.9,316.4 L479.0,316.6 L480.0,316.7 L481.1,316.9 L482.2,317.1 L483.2,317.2 L484.3,317.4 L485.4,317.5 L486.5,317.7 L487.5,317.8 L488.6,318.0 L489.7,318.1 L490.7,318.3 L491.8,318.4 L492.9,318.5 L494.0,318.7 L495.0,318.8 L496.1,319.0 L497.2,319.1 L498.3,319.2 L499.4,319.4 L500.4,319.5 L501.5,319.6 L502.6,319.7 L503.7,319.9 L504.7,320.0 L505.8,320.1 L506.9,320.2 L508.0,320.4 L509.1,320.5 L510.2,320.6 L511.2,320.7 L512.3,320.8 L513.4,320.9 L514.5,321.0 L515.6,321.1 L516.7,321.3 L517.8,321.4 L518.8,321.5 L519.9,321.6" stroke="#ff00ff" stroke-width="1.25" stroke-linecap="round" stroke-dasharray="0.05 1.875"/>
<path d="M99.6,323.0 L99.9,322.0 L100.2,321.0 L100.5,320.0 L100.7,318.9 L101.0,317.9 L101.3,316.9 L101.6,315.9 L101.9,314.9 L102.1,313.8 L102.4,312.8 L102.7,311.8 L103.0,310.8 L103.2,309.8 L103.5,308.7 L103.7,307.7 L104.0,306.7 L104.3,305.7 L104.5,304.7 L104.8,303.6 L105.0,302.6 L105.3,301.6 L105.5,300.6 L105.8,299.6 L106.0,298.5 L106.3,297.5 L106.5,296.5 L106.7,295.5 L107.0,294.4 L107.2,293.4 L107.5,292.4 L107.7,291.4 L107.9,290.3 L108.1,289.3 L108.4,288.3 L108.6,287.3 L108.8,286.2 L109.1,285.2 L109.3,284.2 L109.5,283.2 L109.7,282.2 L109.9,281.1 L110.2,280.1 L110.4,279.1 L110.6,278.0 L110.8,277.0 L111.0,276.0 L111.3,275.0 L111.5,273.9 L111.7,272.9 L111.9,271.9 L112.1,270.9 L112.3,269.8 L112.5,268.8 L112.7,267.8 L113.0,266.8 L113.2,265.7 L113.4,264.7 L113.6,263.7 L113.8,262.7 L114.0,261.6 L114.2,260.6 L114.4,259.6 L114.6,258.5 L114.8,257.5 L115.0,256.5 L115.2,255.5 L115.4,254.4 L115.6,253.4 L115.8,252.4 L116.1,251.4 L116.3,250.3 L116.5,249.3 L116.7,248.3 L116.9,247.2 L117.1,246.2 L117.3,245.2 L117.5,244.2 L117.7,243.1 L117.9,242.1 L118.1,241.1 L118.3,240.0 L118.5,239.0 L118.7,238.0 L118.9,237.0 L119.2,235.9 L119.4,234.9 L119.6,233.9 L119.8,232.9 L120.0,231.8 L120.2,230.8 L120.4,229.8 L120.6,228.7 L120.9,227.7 L121.1,226.7 L121.3,225.7 L121.5,224.6 L121.7,223.6 L122.0,222.6 L122.2,221.5 L122.4,220.5 L122.6,219.5 L122.8,218.5 L123.1,217.4 L123.3,216.4 L123.5,215.4 L123.8,214.4 L124.0,213.3 L124.2,212.3 L124.5,211.3 L124.7,210.3 L124.9,209.2 L125.2,208.2 L125.4,207.2 L125.7,206.1 L125.9,205.1 L126.1,204.1 L126.4,203.1 L126.6,202.0 L126.9,201.0 L127.1,200.0 L127.4,199.0 L127.7,197.9 L127.9,196.9 L128.2,195.9 L128.4,194.9 L128.7,193.8 L129.0,192.8 L129.2,191.8 L129.5,190.8 L129.8,189.7 L130.1,188.7 L130.3,187.7 L130.6,186.7 L130.9,185.7 L131.2,184.6 L131.5,183.6 L131.8,182.6 L132.1,181.6 L132.4,180.6 L132.7,179.6 L133.0,178.6 L133.3,177.6 L133.6,176.5 L133.9,175.5 L134.3,174.5 L134.6,173.5 L134.9,172.5 L135.2,171.6 L135.6,170.6 L135.9,169.6 L136.3,168.6 L136.6,167.6 L137.0,166.6 L137.3,165.7 L137.7,164.7 L138.1,163.7 L138.4,162.8 L138.8,161.8 L139.2,160.8 L139.6,159.9 L140.0,158.9 L140.4,158.0 L140.8,157.0 L141.2,156.1 L141.6,155.2 L142.0,154.3 L142.5,153.3 L142.9,152.4 L143.3,151.5 L143.8,150.6 L144.2,149.7 L144.7,148.8 L145.1,147.9 L145.6,147.0 L146.1,146.1 L146.6,145.3 L147.1,144.4 L147.6,143.6 L148.2,142.8 L148.8,142.0 L149.4,141.2 L150.0,140.4 L150.6,139.6 L151.3,138.9 L152.0,138.2 L152.8,137.5 L153.6,136.9 L154.4,136.3 L155.2,135.7 L156.1,135.2 L156.9,134.7 L157.8,134.2 L158.7,133.8 L159.6,133.4 L160.6,133.2 L161.5,132.9 L162.5,132.7 L163.4,132.6 L164.4,132.5 L165.3,132.5 L166.3,132.5 L167.3,132.6 L168.3,132.7 L169.2,132.9 L170.2,133.1 L171.2,133.3 L172.2,133.6 L173.1,133.9 L174.1,134.2 L175.1,134.5 L176.0,134.9 L177.0,135.3 L177.9,135.7 L178.8,136.2 L179.8,136.6 L180.7,137.1 L181.6,137.5 L182.5,138.0 L183.4,138.6 L184.3,139.1 L185.1,139.6 L186.0,140.2 L186.9,140.7 L187.7,141.3 L188.6,141.9 L189.4,142.5 L190.2,143.1 L191.1,143.7 L191.9,144.3 L192.7,144.9 L193.5,145.6 L194.3,146.2 L195.1,146.9 L195.9,147.6 L196.7,148.3 L197.5,148.9 L198.2,149.6 L199.0,150.3 L199.8,151.0 L200.6,151.8 L201.3,152.5 L202.1,153.2 L202.8,153.9 L203.6,154.6 L204.3,155.4 L205.1,156.1 L205.8,156.8 L206.5,157.6 L207.3,158.3 L208.0,159.1 L208.8,159.8 L209.5,160.6 L210.2,161.3 L210.9,162.1 L211.7,162.8 L212.4,163.6 L213.1,164.3 L213.8,165.1 L214.5,165.8 L215.3,166.6 L216.0,167.3 L216.7,168.1 L217.4,168.9 L218.1,169.6 L218.8,170.4 L219.5,171.2 L220.2,171.9 L220.9,172.7 L221.6,173.5 L222.3,174.2 L223.1,175.0 L223.8,175.8 L224.5,176.6 L225.2,177.3 L225.9,178.1 L226.6,178.9 L227.3,179.6 L228.0,180.4 L228.7,181.2 L229.4,182.0 L230.1,182.7 L230.8,183.5 L231.5,184.3 L232.2,185.1 L232.9,185.8 L233.6,186.6 L234.3,187.4 L235.0,188.2 L235.7,188.9 L236.4,189.7 L237.1,190.5 L237.8,191.3 L238.5,192.0 L239.2,192.8 L239.9,193.6 L240.6,194.4 L241.3,195.1 L242.0,195.9 L242.7,196.7 L243.4,197.4 L244.2,198.2 L244.9,199.0 L245.6,199.7 L246.3,200.5 L247.0,201.3 L247.8,202.0 L248.5,202.8 L249.2,203.5 L249.9,204.3 L250.7,205.0 L251.4,205.8 L252.1,206.6 L252.9,207.3 L253.6,208.1 L254.3,208.8 L255.1,209.6 L255.8,210.3 L256.5,211.1 L257.3,211.8 L258.0,212.6 L258.8,213.3 L259.5,214.0 L260.3,214.8 L261.0,215.5 L261.8,216.3 L262.5,217.0 L263.3,217.7 L264.0,218.5 L264.8,219.2 L265.6,219.9 L266.3,220.6 L267.1,221.4 L267.9,222.1 L268.6,222.8 L269.4,223.5 L270.2,224.2 L270.9,225.0 L271.7,225.7 L272.5,226.4 L273.3,227.1 L274.0,227.8 L274.8,228.5 L275.6,229.2 L276.4,229.9 L277.2,230.6 L277.9,231.3 L278.7,232.0 L279.5,232.7 L280.3,233.4 L281.1,234.1 L281.9,234.8 L282.7,235.5 L283.5,236.2 L284.3,236.9 L285.1,237.5 L285.9,238.2 L286.7,238.9 L287.5,239.6 L288.3,240.2 L289.1,240.9 L289.9,241.6 L290.8,242.2 L291.6,242.9 L292.4,243.6 L293.2,244.2 L294.0,244.9 L294.9,245.5 L295.7,246.2 L296.5,246.8 L297.3,247.5 L298.2,248.1 L299.0,248.8 L299.8,249.4 L300.7,250.0 L301.5,250.7 L302.3,251.3 L303.2,251.9 L304.0,252.5 L304.9,253.2 L305.7,253.8 L306.5,254.4 L307.4,255.0 L308.2,255.6 L309.1,256.2 L309.9,256.8 L310.8,257.4 L311.7,258.0 L312.5,258.6 L313.4,259.2 L314.2,259.8 L315.1,260.4 L316.0,261.0 L316.8,261.6 L317.7,262.1 L318.6,262.7 L319.4,263.3 L320.3,263.9 L321.2,264.4 L322.1,265.0 L323.0,265.5 L323.8,266.1 L324.7,266.7 L325.6,267.2 L326.5,267.8 L327.4,268.3 L328.3,268.8 L329.2,269.4 L330.1,269.9 L331.0,270.4 L331.9,271.0 L332.8,271.5 L333.7,272.0 L334.6,272.5 L335.5,273.0 L336.4,273.5 L337.3,274.1 L338.2,274.6 L339.1,275.1 L340.0,275.6 L340.9,276.0 L341.8,276.5 L342.8,277.0 L343.7,277.5 L344.6,278.0 L345.5,278.5 L346.4,278.9 L347.4,279.4 L348.3,279.9 L349.2,280.4 L350.2,280.8 L351.1,281.3 L352.0,281.7 L353.0,282.2 L353.9,282.6 L354.8,283.1 L355.8,283.5 L356.7,284.0 L357.7,284.4 L358.6,284.9 L359.5,285.3 L360.5,285.7 L361.4,286.1 L362.4,286.6 L363.3,287.0 L364.3,287.4 L365.2,287.8 L366.2,288.2 L367.2,288.6 L368.1,289.1 L369.1,289.5 L370.0,289.9 L371.0,290.3 L372.0,290.7 L372.9,291.0 L373.9,291.4 L374.9,291.8 L375.8,292.2 L376.8,292.6 L377.8,293.0 L378.7,293.3 L379.7,293.7 L380.7,294.1 L381.7,294.5 L382.6,294.8 L383.6,295.2 L384.6,295.5 L385.6,295.9 L386.6,296.3 L387.5,296.6 L388.5,297.0 L389.5,297.3 L390.5,297.6 L391.5,298.0 L392.5,298.3 L393.5,298.7 L394.4,299.0 L395.4,299.3 L396.4,299.7 L397.4,300.0 L398.4,300.3 L399.4,300.6 L400.4,300.9 L401.4,301.3 L402.4,301.6 L403.4,301.9 L404.4,302.2 L405.4,302.5 L406.4,302.8 L407.4,303.1 L408.4,303.4 L409.4,303.7 L410.4,304.0 L411.4,304.3 L412.4,304.6 L413.4,304.8 L414.4,305.1 L415.5,305.4 L416.5,305.7 L417.5,306.0 L418.5,306.2 L419.5,306.5 L420.5,306.8 L421.5,307.0 L422.5,307.3 L423.6,307.6 L424.6,307.8 L425.6,308.1 L426.6,308.3 L427.6,308.6 L428.7,308.8 L429.7,309.1 L430.7,309.3 L431.7,309.6 L432.7,309.8 L433.8,310.0 L434.8,310.3 L435.8,310.5 L436.8,310.8 L437.9,311.0 L438.9,311.2 L439.9,311.4 L440.9,311.7 L442.0,311.9 L443.0,312.1 L444.0,312.3 L445.1,312.5 L446.1,312.7 L447.1,313.0 L448.2,313.2 L449.2,313.4 L450.2,313.6 L451.2,313.8 L452.3,314.0 L453.3,314.2 L454.3,314.4 L455.4,314.6 L456.4,314.8 L457.5,314.9 L458.5,315.1 L459.5,315.3 L460.6,315.5 L461.6,315.7 L462.6,315.9 L463.7,316.0 L464.7,316.2 L465.7,316.4 L466.8,316.6 L467.8,316.7 L468.9,316.9 L469.9,317.1 L470.9,317.2 L472.0,317.4 L473.0,317.6 L474.1,317.7 L475.1,317.9 L476.1,318.0 L477.2,318.2 L478.2,318.3 L479.3,318.5 L480.3,318.6 L481.4,318.8 L482.4,318.9 L483.4,319.1 L484.5,319.2 L485.5,319.3 L486.6,319.5 L487.6,319.6 L488.6,319.7 L489.7,319.9 L490.7,320.0 L491.8,320.1 L492.8,320.3 L493.9,320.4 L494.9,320.5 L495.9,320.6 L497.0,320.8 L498.0,320.9 L499.1,321.0 L500.1,321.1 L501.2,321.2 L502.2,321.3 L503.3,321.4 L504.3,321.6 L505.3,321.7 L506.4,321.8 L507.4,321.9 L508.5,322.0 L509.5,322.1 L510.5,322.2 L511.6,322.3 L512.6,322.4 L513.7,322.5 L514.7,322.6 L515.8,322.7 L516.8,322.7 L517.8,322.8 L518.9,322.9 L519.9,323.0" stroke="#00ffff" stroke-width="1.25" stroke-dasharray="4.15 1.24 1.07 1.24"/>
<path d="M99.6,323.0 L99.9,322.0 L100.2,321.1 L100.5,320.1 L100.8,319.2 L101.1,318.2 L101.4,317.2 L101.7,316.3 L102.0,315.3 L102.2,314.3 L102.5,313.3 L102.8,312.4 L103.1,311.4 L103.3,310.4 L103.6,309.4 L103.9,308.5 L104.1,307.5 L104.4,306.5 L104.6,305.5 L104.9,304.6 L105.2,303.6 L105.4,302.6 L105.7,301.6 L105.9,300.6 L106.2,299.6 L106.4,298.6 L106.7,297.7 L106.9,296.7 L107.1,295.7 L107.4,294.7 L107.6,293.7 L107.9,292.7 L108.1,291.7 L108.3,290.7 L108.6,289.7 L108.8,288.7 L109.0,287.7 L109.3,286.7 L109.5,285.7 L109.7,284.7 L110.0,283.7 L110.2,282.7 L110.4,281.7 L110.6,280.7 L110.9,279.7 L111.1,278.7 L111.3,277.7 L111.5,276.7 L111.7,275.7 L112.0,274.7 L112.2,273.7 L112.4,272.7 L112.6,271.7 L112.8,270.7 L113.0,269.7 L113.3,268.7 L113.5,267.7 L113.7,266.7 L113.9,265.7 L114.1,264.7 L114.3,263.7 L114.5,262.7 L114.8,261.7 L115.0,260.7 L115.2,259.7 L115.4,258.7 L115.6,257.7 L115.8,256.7 L116.0,255.7 L116.2,254.7 L116.4,253.7 L116.7,252.7 L116.9,251.7 L117.1,250.8 L117.3,249.8 L117.5,248.8 L117.7,247.8 L117.9,246.8 L118.1,245.8 L118.3,244.8 L118.6,243.8 L118.8,242.8 L119.0,241.8 L119.2,240.8 L119.4,239.8 L119.6,238.9 L119.8,237.9 L120.1,236.9 L120.3,235.9 L120.5,234.9 L120.7,233.9 L120.9,232.9 L121.1,232.0 L121.4,231.0 L121.6,230.0 L121.8,229.0 L122.0,228.1 L122.2,227.1 L122.5,226.1 L122.7,225.1 L122.9,224.2 L123.2,223.2 L123.4,222.2 L123.6,221.3 L123.8,220.3 L124.1,219.3 L124.3,218.4 L124.5,217.4 L124.8,216.5 L125.0,215.5 L125.3,214.5 L125.5,213.6 L125.7,212.6 L126.0,211.6 L126.2,210.7 L126.5,209.7 L126.7,208.8 L127.0,207.8 L127.2,206.8 L127.5,205.9 L127.7,204.9 L128.0,204.0 L128.3,203.0 L128.5,202.0 L128.8,201.1 L129.0,200.1 L129.3,199.1 L129.6,198.1 L129.9,197.2 L130.1,196.2 L130.4,195.2 L130.7,194.2 L131.0,193.2 L131.3,192.3 L131.6,191.3 L131.9,190.3 L132.1,189.3 L132.4,188.3 L132.7,187.3 L133.1,186.3 L133.4,185.3 L133.7,184.3 L134.0,183.3 L134.3,182.2 L134.6,181.2 L134.9,180.2 L135.3,179.2 L135.6,178.2 L136.0,177.2 L136.3,176.2 L136.7,175.1 L137.0,174.1 L137.4,173.1 L137.8,172.1 L138.2,171.1 L138.6,170.2 L139.0,169.2 L139.4,168.2 L139.9,167.2 L140.3,166.3 L140.8,165.3 L141.3,164.4 L141.8,163.5 L142.3,162.6 L142.8,161.7 L143.4,160.8 L143.9,159.9 L144.5,159.1 L145.1,158.2 L145.7,157.4 L146.3,156.6 L146.9,155.8 L147.6,155.1 L148.3,154.3 L149.0,153.6 L149.7,152.9 L150.5,152.2 L151.2,151.6 L152.0,150.9 L152.8,150.3 L153.6,149.8 L154.4,149.2 L155.2,148.7 L156.0,148.3 L156.9,147.8 L157.7,147.4 L158.6,147.1 L159.5,146.7 L160.4,146.4 L161.3,146.2 L162.2,146.0 L163.1,145.8 L164.0,145.7 L165.0,145.7 L165.9,145.7 L166.8,145.7 L167.8,145.8 L168.7,145.9 L169.7,146.0 L170.7,146.2 L171.6,146.4 L172.6,146.7 L173.5,147.0 L174.5,147.3 L175.4,147.7 L176.4,148.0 L177.3,148.4 L178.3,148.9 L179.2,149.3 L180.1,149.8 L181.1,150.2 L182.0,150.7 L182.9,151.2 L183.8,151.7 L184.7,152.2 L185.5,152.7 L186.4,153.3 L187.3,153.8 L188.1,154.3 L189.0,154.9 L189.8,155.5 L190.6,156.0 L191.4,156.6 L192.3,157.2 L193.1,157.8 L193.9,158.4 L194.6,159.0 L195.4,159.6 L196.2,160.3 L197.0,160.9 L197.8,161.5 L198.5,162.2 L199.3,162.8 L200.0,163.5 L200.8,164.1 L201.5,164.8 L202.3,165.5 L203.0,166.1 L203.7,166.8 L204.4,167.5 L205.2,168.2 L205.9,168.9 L206.6,169.6 L207.3,170.3 L208.0,171.0 L208.7,171.7 L209.4,172.4 L210.1,173.1 L210.8,173.8 L211.5,174.5 L212.2,175.3 L212.9,176.0 L213.6,176.7 L214.3,177.4 L215.0,178.2 L215.7,178.9 L216.4,179.6 L217.0,180.4 L217.7,181.1 L218.4,181.8 L219.1,182.5 L219.8,183.3 L220.5,184.0 L221.2,184.7 L221.9,185.5 L222.6,186.2 L223.3,186.9 L223.9,187.7 L224.6,188.4 L225.3,189.1 L226.0,189.9 L226.7,190.6 L227.4,191.3 L228.1,192.0 L228.8,192.8 L229.5,193.5 L230.2,194.2 L230.9,195.0 L231.6,195.7 L232.3,196.4 L233.0,197.1 L233.7,197.9 L234.4,198.6 L235.1,199.3 L235.8,200.0 L236.6,200.8 L237.3,201.5 L238.0,202.2 L238.7,202.9 L239.4,203.6 L240.1,204.4 L240.8,205.1 L241.5,205.8 L242.3,206.5 L243.0,207.2 L243.7,207.9 L244.4,208.7 L245.1,209.4 L245.9,210.1 L246.6,210.8 L247.3,211.5 L248.0,212.2 L248.7,212.9 L249.5,213.6 L250.2,214.3 L250.9,215.0 L251.7,215.7 L252.4,216.4 L253.1,217.1 L253.9,217.8 L254.6,218.5 L255.3,219.2 L256.1,219.9 L256.8,220.6 L257.6,221.3 L258.3,222.0 L259.1,222.7 L259.8,223.4 L260.5,224.1 L261.3,224.8 L262.0,225.5 L262.8,226.1 L263.5,226.8 L264.3,227.5 L265.1,228.2 L265.8,228.9 L266.6,229.5 L267.3,230.2 L268.1,230.9 L268.9,231.5 L269.6,232.2 L270.4,232.9 L271.2,233.5 L271.9,234.2 L272.7,234.9 L273.5,235.5 L274.3,236.2 L275.0,236.8 L275.8,237.5 L276.6,238.1 L277.4,238.8 L278.2,239.4 L278.9,240.1 L279.7,240.7 L280.5,241.4 L281.3,242.0 L282.1,242.7 L282.9,243.3 L283.7,243.9 L284.5,244.6 L285.3,245.2 L286.1,245.8 L286.9,246.4 L287.7,247.1 L288.5,247.7 L289.3,248.3 L290.1,248.9 L290.9,249.5 L291.7,250.1 L292.5,250.8 L293.3,251.4 L294.1,252.0 L295.0,252.6 L295.8,253.2 L296.6,253.8 L297.4,254.4 L298.2,255.0 L299.1,255.6 L299.9,256.1 L300.7,256.7 L301.5,257.3 L302.4,257.9 L303.2,258.5 L304.0,259.1 L304.9,259.6 L305.7,260.2 L306.6,260.8 L307.4,261.3 L308.2,261.9 L309.1,262.5 L309.9,263.0 L310.8,263.6 L311.6,264.1 L312.5,264.7 L313.3,265.2 L314.2,265.8 L315.0,266.3 L315.9,266.9 L316.7,267.4 L317.6,267.9 L318.5,268.5 L319.3,269.0 L320.2,269.5 L321.0,270.1 L321.9,270.6 L322.8,271.1 L323.6,271.6 L324.5,272.1 L325.4,272.6 L326.3,273.1 L327.1,273.6 L328.0,274.1 L328.9,274.6 L329.8,275.1 L330.7,275.6 L331.5,276.1 L332.4,276.6 L333.3,277.1 L334.2,277.6 L335.1,278.1 L336.0,278.5 L336.9,279.0 L337.8,279.5 L338.7,279.9 L339.6,280.4 L340.5,280.9 L341.4,281.3 L342.3,281.8 L343.2,282.2 L344.1,282.7 L345.0,283.1 L345.9,283.5 L346.8,284.0 L347.7,284.4 L348.6,284.8 L349.5,285.3 L350.5,285.7 L351.4,286.1 L352.3,286.5 L353.2,287.0 L354.1,287.4 L355.1,287.8 L356.0,288.2 L356.9,288.6 L357.8,289.0 L358.8,289.4 L359.7,289.8 L360.6,290.2 L361.6,290.6 L362.5,290.9 L363.4,291.3 L364.4,291.7 L365.3,292.1 L366.2,292.5 L367.2,292.8 L368.1,293.2 L369.1,293.6 L370.0,293.9 L371.0,294.3 L371.9,294.7 L372.9,295.0 L373.8,295.4 L374.8,295.7 L375.7,296.1 L376.7,296.4 L377.6,296.7 L378.6,297.1 L379.5,297.4 L380.5,297.8 L381.4,298.1 L382.4,298.4 L383.4,298.7 L384.3,299.1 L385.3,299.4 L386.2,299.7 L387.2,300.0 L388.2,300.3 L389.1,300.6 L390.1,300.9 L391.1,301.3 L392.0,301.6 L393.0,301.9 L394.0,302.2 L395.0,302.4 L395.9,302.7 L396.9,303.0 L397.9,303.3 L398.8,303.6 L399.8,303.9 L400.8,304.2 L401.8,304.4 L402.8,304.7 L403.7,305.0 L404.7,305.3 L405.7,305.5 L406.7,305.8 L407.7,306.1 L408.6,306.3 L409.6,306.6 L410.6,306.8 L411.6,307.1 L412.6,307.4 L413.6,307.6 L414.6,307.9 L415.6,308.1 L416.5,308.3 L417.5,308.6 L418.5,308.8 L419.5,309.1 L420.5,309.3 L421.5,309.5 L422.5,309.8 L423.5,310.0 L424.5,310.2 L425.5,310.4 L426.5,310.7 L427.5,310.9 L428.5,311.1 L429.5,311.3 L430.5,311.5 L431.5,311.7 L432.5,312.0 L433.5,312.2 L434.4,312.4 L435.4,312.6 L436.5,312.8 L437.5,313.0 L438.5,313.2 L439.5,313.4 L440.5,313.6 L441.5,313.8 L442.5,314.0 L443.5,314.1 L444.5,314.3 L445.5,314.5 L446.5,314.7 L447.5,314.9 L448.5,315.1 L449.5,315.2 L450.5,315.4 L451.5,315.6 L452.5,315.8 L453.5,315.9 L454.5,316.1 L455.5,316.3 L456.5,316.4 L457.5,316.6 L458.5,316.8 L459.6,316.9 L460.6,317.1 L461.6,317.2 L462.6,317.4 L463.6,317.6 L464.6,317.7 L465.6,317.9 L466.6,318.0 L467.6,318.2 L468.6,318.3 L469.6,318.4 L470.6,318.6 L471.7,318.7 L472.7,318.9 L473.7,319.0 L474.7,319.1 L475.7,319.3 L476.7,319.4 L477.7,319.5 L478.7,319.7 L479.7,319.8 L480.7,319.9 L481.7,320.1 L482.8,320.2 L483.8,320.3 L484.8,320.4 L485.8,320.6 L486.8,320.7 L487.8,320.8 L488.8,320.9 L489.8,321.0 L490.8,321.1 L491.8,321.3 L492.8,321.4 L493.8,321.5 L494.8,321.6 L495.9,321.7 L496.9,321.8 L497.9,321.9 L498.9,322.0 L499.9,322.1 L500.9,322.2 L501.9,322.3 L502.9,322.4 L503.9,322.5 L504.9,322.6 L505.9,322.7 L506.9,322.8 L507.9,322.9 L508.9,323.0 L509.9,323.1 L510.9,323.2 L511.9,323.3 L512.9,323.4 L513.9,323.4 L514.9,323.5 L515.9,323.6 L516.9,323.7 L517.9,323.8 L518.9,323.9 L519.9,324.0" stroke="#ffff00" stroke-width="1.25" stroke-dasharray="3.38 2.01 1.07 2.01"/>
</g>
<g fill="none" stroke-opacity="0.55">
<path d="M451.0,36.5 H500.6" stroke="#ff0000" stroke-width="1.0"/>
<path d="M451.0,54.5 H500.6" stroke="#00ff00" stroke-width="1.0" stroke-dasharray="3.38 1.24"/>
<path d="M451.0,73.5 H500.6" stroke="#0000ff" stroke-width="1.0" stroke-dasharray="1.84 2.01"/>
<path d="M451.55,91.5 H500.6" stroke="#ff00ff" stroke-width="1.0" stroke-linecap="round" stroke-dasharray="0.05 1.875"/>
<path d="M451.0,110.5 H500.6" stroke="#00ffff" stroke-width="1.0" stroke-dasharray="4.15 1.24 1.07 1.24"/>
<path d="M451.0,128.5 H500.6" stroke="#ffff00" stroke-width="1.0" stroke-dasharray="3.38 2.01 1.07 2.01"/>
</g>
<text x="439.9" y="40.45" text-anchor="end">m<tspan class="s" dy="5.1">A</tspan><tspan dy="-5.1">=100</tspan></text>
<text x="439.9" y="58.95" text-anchor="end">m<tspan class="s" dy="5.1">A</tspan><tspan dy="-5.1">=150</tspan></text>
<text x="439.9" y="77.45" text-anchor="end">m<tspan class="s" dy="5.1">A</tspan><tspan dy="-5.1">=200</tspan></text>
<text x="439.9" y="95.95" text-anchor="end">m<tspan class="s" dy="5.1">A</tspan><tspan dy="-5.1">=300</tspan></text>
<text x="439.9" y="114.45" text-anchor="end">m<tspan class="s" dy="5.1">A</tspan><tspan dy="-5.1">=400</tspan></text>
<text x="439.9" y="132.95" text-anchor="end">m<tspan class="s" dy="5.1">A</tspan><tspan dy="-5.1">=1000</tspan></text>
<path d="M94.15,22.35 H522.5 V332.3 H94.15 Z" fill="none" stroke="#000" stroke-width="1.0" stroke-linejoin="miter"/>
<path d="M136.99,332.3 v-4.8 M136.99,22.35 v4.8 M179.82,332.3 v-4.8 M179.82,22.35 v4.8 M222.66,332.3 v-4.8 M222.66,22.35 v4.8 M265.49,332.3 v-4.8 M265.49,22.35 v4.8 M308.33,332.3 v-4.8 M308.33,22.35 v4.8 M351.16,332.3 v-4.8 M351.16,22.35 v4.8 M394.00,332.3 v-4.8 M394.00,22.35 v4.8 M436.83,332.3 v-4.8 M436.83,22.35 v4.8 M479.66,332.3 v-4.8 M479.66,22.35 v4.8 M94.15,288.02 h4.8 M522.5,288.02 h-4.8 M94.15,243.74 h4.8 M522.5,243.74 h-4.8 M94.15,199.46 h4.8 M522.5,199.46 h-4.8 M94.15,155.19 h4.8 M522.5,155.19 h-4.8 M94.15,110.91 h4.8 M522.5,110.91 h-4.8 M94.15,66.63 h4.8 M522.5,66.63 h-4.8" fill="none" stroke="#000" stroke-width="0.9"/>
<text x="83.4" y="338.55" text-anchor="end">0</text>
<text x="83.4" y="294.27" text-anchor="end">0.5</text>
<text x="83.4" y="249.99" text-anchor="end">1</text>
<text x="83.4" y="205.71" text-anchor="end">1.5</text>
<text x="83.4" y="161.44" text-anchor="end">2</text>
<text x="83.4" y="117.16" text-anchor="end">2.5</text>
<text x="83.4" y="72.88" text-anchor="end">3</text>
<text x="83.4" y="28.60" text-anchor="end">3.5</text>
<text x="96.65" y="358.05" text-anchor="middle">0</text>
<text x="139.49" y="358.05" text-anchor="middle">50</text>
<text x="182.32" y="358.05" text-anchor="middle">100</text>
<text x="225.16" y="358.05" text-anchor="middle">150</text>
<text x="267.99" y="358.05" text-anchor="middle">200</text>
<text x="310.83" y="358.05" text-anchor="middle">250</text>
<text x="353.66" y="358.05" text-anchor="middle">300</text>
<text x="396.50" y="358.05" text-anchor="middle">350</text>
<text x="439.33" y="358.05" text-anchor="middle">400</text>
<text x="482.16" y="358.05" text-anchor="middle">450</text>
<text x="525.00" y="358.05" text-anchor="middle">500</text>
<text x="299.4" y="383.5">μ<tspan class="s" dx="-0.5" dy="4.7">c</tspan></text>
<text transform="translate(23.1,192.6) rotate(-90) scale(1.22,0.95)">η</text>
<text class="s" transform="translate(27.70,180.2) rotate(-90)">10</text>
</svg></body></html>
